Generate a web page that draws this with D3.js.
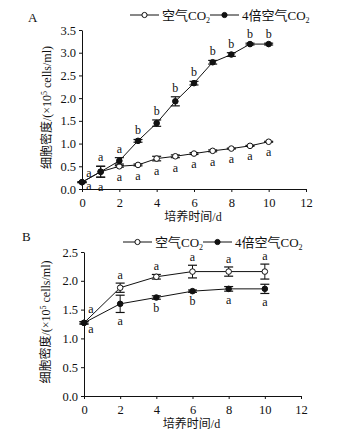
<!DOCTYPE html>
<html>
<head>
<meta charset="utf-8">
<script src="https://cdn.jsdelivr.net/npm/d3@7"></script>
<style>
  body { margin: 0; background: #fff; }
  svg { display: block; }
  text { font-family: "Liberation Serif", "Noto Sans CJK SC", serif; fill: #111; }
</style>
</head>
<body>
<div id="chart"></div>
<script>
// panel A: daily counts
const daysA = [0, 1, 2, 3, 4, 5, 6, 7, 8, 9, 10];
const airA = [0.15, 0.38, 0.50, 0.53, 0.67, 0.72, 0.78, 0.84, 0.89, 0.95, 1.04];
const airAErr = [0.01, 0.12, 0.02, 0.02, 0.05, 0.03, 0.02, 0.02, 0.01, 0.01, 0.01];
const co2A = [0.15, 0.38, 0.62, 1.06, 1.45, 1.93, 2.33, 2.79, 2.96, 3.19, 3.19];
const co2AErr = [0.01, 0.12, 0.07, 0.03, 0.07, 0.10, 0.04, 0.04, 0.04, 0.02, 0.02];
const airALetters = ['a', 'a', 'a', 'a', 'a', 'a', 'a', 'a', 'a', 'a', 'a'];
const co2ALetters = ['a', 'a', 'a', 'b', 'b', 'b', 'b', 'b', 'b', 'b', 'b'];
const yTicksA = [0, 0.5, 1.0, 1.5, 2.0, 2.5, 3.0, 3.5];

// panel B: every 2 days
const daysB = [0, 2, 4, 6, 8, 10];
const airB = [1.27, 1.88, 2.07, 2.16, 2.16, 2.16];
const airBErr = [0.02, 0.08, 0.04, 0.11, 0.08, 0.13];
const co2B = [1.27, 1.60, 1.71, 1.82, 1.86, 1.86];
const co2BErr = [0.02, 0.15, 0.03, 0.02, 0.04, 0.08];
const airBLetters = ['a', 'a', 'a', 'a', 'a', 'a'];
const co2BLetters = ['a', 'a', 'b', 'b', 'a', 'a'];
const yTicksB = [0, 0.5, 1.0, 1.5, 2.0, 2.5];

const xTicks = [0, 2, 4, 6, 8, 10, 12];
const seriesNames = ['空气', '4倍空气'];

const W = 355, H = 434;
const svg = d3.select('#chart').append('svg').attr('width', W).attr('height', H);

function legend(g, y, xs) {
  // xs: [line1 start, line2 start]
  [0, 1].forEach(function(i) {
    let x0 = xs[i];
    g.append('line').attr('x1', x0).attr('x2', x0 + 29).attr('y1', y).attr('y2', y)
      .attr('stroke', '#111').attr('stroke-width', 1);
    g.append('circle').attr('cx', x0 + 14.5).attr('cy', y).attr('r', 2.6)
      .attr('fill', i == 0 ? '#fff' : '#111').attr('stroke', '#111').attr('stroke-width', 1);
    let t = g.append('text').attr('x', x0 + 32).attr('y', y + 4.5).style('font-size', '13px');
    t.append('tspan').text(seriesNames[i] + 'CO');
    t.append('tspan').attr('dy', 3).style('font-size', '8px').text('2');
  });
}

function yLabel(g, x, y) {
  let t = g.append('text').attr('transform', `translate(${x},${y}) rotate(-90)`)
    .attr('text-anchor', 'middle').style('font-size', '12px');
  t.append('tspan').text('细胞密度/(×10');
  t.append('tspan').attr('dy', -4).style('font-size', '8px').text('5');
  t.append('tspan').attr('dy', 4).text(' cells/ml)');
}

function panel(opt) {
  let g = svg.append('g');
  let x = d3.scaleLinear().domain([0, 12]).range(opt.xr);
  let y = d3.scaleLinear().domain([0, opt.ymax]).range(opt.yr);

  // axes
  let xa = g.append('g').attr('transform', `translate(0,${opt.yr[0]})`)
    .call(d3.axisBottom(x).tickValues(xTicks).tickFormat(d3.format('d')).tickSize(3).tickSizeOuter(0));
  let ya = g.append('g').attr('transform', `translate(${opt.xr[0]},0)`)
    .call(d3.axisLeft(y).tickValues(opt.yTicks).tickFormat(d3.format('.1f')).tickSize(3).tickSizeOuter(0));
  [xa, ya].forEach(a => {
    a.select('.domain').attr('stroke', '#111');
    a.selectAll('.tick line').attr('stroke', '#111');
    a.selectAll('.tick text').style('font-size', '12.5px')
      .style('font-family', '"Liberation Serif", serif').attr('fill', '#111');
  });
  xa.selectAll('.tick text').attr('dy', '0.95em');

  let line = d3.line().x(d => x(d[0])).y(d => y(d[1]));

  opt.series.forEach(function(s, si) {
    let pts = opt.days.map((d, i) => [d, s.vals[i], s.err[i]]);
    g.append('path').datum(pts).attr('d', line)
      .attr('fill', 'none').attr('stroke', '#111').attr('stroke-width', 1);
    // error bars
    let eb = g.selectAll(null).data(pts).enter().append('g');
    eb.append('line').attr('x1', d => x(d[0])).attr('x2', d => x(d[0]))
      .attr('y1', d => y(d[1] - d[2])).attr('y2', d => y(d[1] + d[2]))
      .attr('stroke', '#111').attr('stroke-width', 1);
    [-1, 1].forEach(sg => {
      eb.append('line').attr('x1', d => x(d[0]) - 4.5).attr('x2', d => x(d[0]) + 4.5)
        .attr('y1', d => y(d[1] + sg * d[2])).attr('y2', d => y(d[1] + sg * d[2]))
        .attr('stroke', '#111').attr('stroke-width', 1.2);
    });
    g.selectAll(null).data(pts).enter().append('circle')
      .attr('cx', d => x(d[0])).attr('cy', d => y(d[1])).attr('r', 2.8)
      .attr('fill', s.open ? '#fff' : '#111').attr('stroke', '#111').attr('stroke-width', 1);
    // significance letters
    g.selectAll(null).data(pts).enter().append('text')
      .attr('text-anchor', 'middle').style('font-size', '12px').attr('fill', '#26324a')
      .attr('x', d => x(d[0]) + (d[0] == 0 ? 7 : 0))
      .attr('y', function(d) {
        if (d[0] == 0) return y(d[1]) + s.zeroDy;
        return s.above ? y(d[1] + d[2]) - s.gap : y(d[1] - d[2]) + s.gap;
      })
      .text((d, i) => s.letters[i]);
  });

  legend(g, opt.legY, opt.legX);
  yLabel(g, opt.ylabX, (opt.yr[0] + opt.yr[1]) / 2 - 2);
  g.append('text').attr('x', (opt.xr[0] + opt.xr[1]) / 2 - 1).attr('y', opt.yr[0] + 32)
    .attr('text-anchor', 'middle').style('font-size', '12px').text('培养时间/d');
  g.append('text').attr('x', opt.tag[0]).attr('y', opt.tag[1]).style('font-size', '13px').text(opt.tagText);
}

panel({
  xr: [82, 306], yr: [189, 30], ymax: 3.5, yTicks: yTicksA, days: daysA,
  series: [
    {vals: airA, err: airAErr, letters: airALetters, open: true, above: false, gap: 14, zeroDy: 8},
    {vals: co2A, err: co2AErr, letters: co2ALetters, open: false, above: true, gap: 5, zeroDy: -5}
  ],
  legY: 15, legX: [130, 210], ylabX: 51, tag: [28, 22], tagText: 'A'
});

panel({
  xr: [84, 301], yr: [396, 252], ymax: 2.5, yTicks: yTicksB, days: daysB,
  series: [
    {vals: airB, err: airBErr, letters: airBLetters, open: true, above: true, gap: 4, zeroDy: -9.5},
    {vals: co2B, err: co2BErr, letters: co2BLetters, open: false, above: false, gap: 13, zeroDy: 10.5}
  ],
  legY: 242, legX: [123, 203], ylabX: 50, tag: [22, 241], tagText: 'B'
});
</script>
</body>
</html>
